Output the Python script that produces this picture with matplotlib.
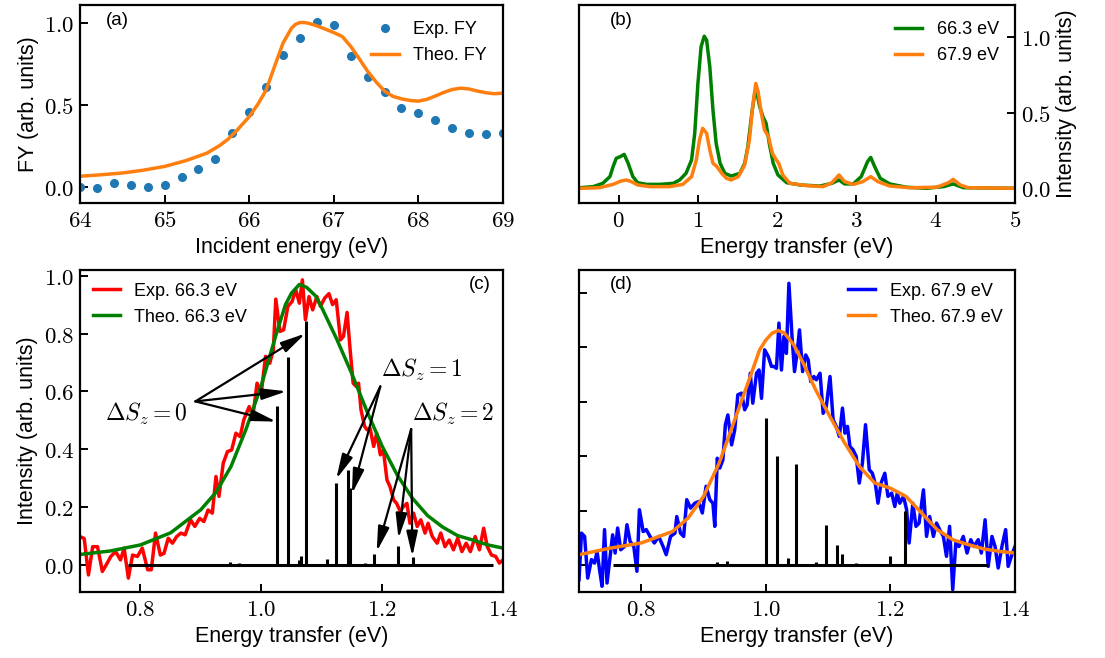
import matplotlib
matplotlib.use('Agg')
import matplotlib.pyplot as plt
from matplotlib.ticker import FuncFormatter, MultipleLocator

plt.rcParams['font.family'] = 'Liberation Sans'
plt.rcParams['mathtext.fontset'] = 'cm'

# ---- (a) fluorescence yield ----
fy_exp_x = [64.0, 64.2, 64.4, 64.6, 64.8, 65.0, 65.2, 65.4, 65.6, 65.8, 66.0, 66.2, 66.4,
            66.6, 66.8, 67.0, 67.2, 67.4, 67.6, 67.8, 68.0, 68.2, 68.4, 68.6, 68.8, 69.0]
fy_exp_y = [-0.004, -0.006, 0.02, 0.01, 0.0, 0.012, 0.06, 0.105, 0.166, 0.325, 0.457, 0.608, 0.80,
            0.903, 1.002, 0.986, 0.798, 0.67, 0.578, 0.479, 0.446, 0.406, 0.36, 0.327, 0.323, 0.329]
fy_th_x = [64.0, 64.25, 64.5, 64.75, 65.0, 65.25, 65.5, 65.65, 65.75, 65.85, 66.0, 66.1, 66.2,
           66.3, 66.4, 66.5, 66.55, 66.6, 66.65, 66.7, 66.8, 66.9, 67.0, 67.1, 67.2, 67.3,
           67.4, 67.5, 67.6, 67.7, 67.8, 67.9, 68.0, 68.1, 68.2, 68.3, 68.4, 68.5, 68.6,
           68.7, 68.8, 68.9, 69.0]
fy_th_y = [0.063, 0.072, 0.083, 0.1, 0.123, 0.158, 0.204, 0.25, 0.289, 0.34, 0.426, 0.5, 0.588,
           0.733, 0.875, 0.966, 0.99, 1.0, 1.0, 0.996, 0.98, 0.96, 0.939, 0.915, 0.855, 0.78,
           0.703, 0.638, 0.582, 0.55, 0.535, 0.525, 0.521, 0.532, 0.552, 0.574, 0.592, 0.60, 0.595,
           0.582, 0.572, 0.566, 0.57]

# ---- (b) theoretical RIXS spectra ----
b_g_x = [-0.49, -0.32, -0.2, -0.11, -0.07, -0.03, 0.02, 0.07, 0.12, 0.18, 0.24, 0.35, 0.52, 0.69,
         0.77, 0.85, 0.92, 0.96, 1.0, 1.04, 1.08, 1.11, 1.15, 1.19, 1.23, 1.28, 1.34, 1.42, 1.53,
         1.59, 1.63, 1.68, 1.72, 1.75, 1.78, 1.82, 1.86, 1.9, 1.95, 2.01, 2.12, 2.29, 2.54, 2.69,
         2.78, 2.85, 2.96, 3.06, 3.14, 3.18, 3.23, 3.3, 3.42, 3.63, 3.88, 4.1, 4.22, 4.35, 5.0]
b_g_y = [0.004, 0.011, 0.033, 0.077, 0.143, 0.198, 0.209, 0.224, 0.165, 0.077, 0.037, 0.026, 0.026,
         0.033, 0.055, 0.099, 0.187, 0.363, 0.692, 0.934, 1.004, 0.978, 0.802, 0.516, 0.297,
         0.165, 0.099, 0.081, 0.099, 0.165, 0.275, 0.495, 0.637, 0.615, 0.538, 0.473, 0.429,
         0.297, 0.165, 0.088, 0.037, 0.022, 0.015, 0.033, 0.055, 0.029, 0.029, 0.077, 0.176,
         0.204, 0.143, 0.066, 0.029, 0.007, 0.0, 0.011, 0.029, 0.004, 0.0]
b_o_x = [-0.49, -0.24, -0.07, 0.03, 0.1, 0.16, 0.24, 0.39, 0.64, 0.81, 0.92, 0.98, 1.02, 1.06,
         1.11, 1.15, 1.19, 1.24, 1.3, 1.36, 1.42, 1.51, 1.59, 1.65, 1.69, 1.73, 1.76, 1.8, 1.84,
         1.89, 1.94, 1.99, 2.02, 2.07, 2.16, 2.37, 2.58, 2.69, 2.78, 2.85, 2.96, 3.08, 3.18, 3.27,
         3.42, 3.67, 4.01, 4.16, 4.22, 4.31, 4.41, 5.0]
b_o_y = [0.0, 0.004, 0.026, 0.048, 0.055, 0.044, 0.022, 0.011, 0.011, 0.026, 0.077, 0.187, 0.319,
         0.396, 0.363, 0.253, 0.165, 0.143, 0.099, 0.066, 0.055, 0.077, 0.154, 0.319, 0.538,
         0.692, 0.637, 0.495, 0.385, 0.341, 0.231, 0.187, 0.165, 0.088, 0.033, 0.018, 0.011,
         0.037, 0.088, 0.044, 0.026, 0.044, 0.077, 0.044, 0.015, 0.004, 0.007, 0.037, 0.059,
         0.022, 0.004, 0.0]

# ---- (c) 66.3 eV ----
c_exp_x = [0.700, 0.707, 0.714, 0.721, 0.729, 0.737, 0.745, 0.751, 0.759, 0.767, 0.773, 0.780,
           0.787, 0.795, 0.803, 0.812, 0.818, 0.825, 0.833, 0.839, 0.846, 0.853, 0.860, 0.867,
           0.874, 0.883, 0.890, 0.898, 0.905, 0.912, 0.919, 0.925, 0.930, 0.937, 0.944, 0.951,
           0.958, 0.965, 0.971, 0.980, 0.986, 0.993, 1.000, 1.007, 1.014, 1.020, 1.024, 1.031,
           1.037, 1.044, 1.051, 1.057, 1.063, 1.068, 1.073, 1.079, 1.085, 1.092, 1.098, 1.105,
           1.112, 1.118, 1.124, 1.131, 1.136, 1.142, 1.147, 1.152, 1.157, 1.161, 1.165, 1.171,
           1.175, 1.180, 1.186, 1.191, 1.197, 1.202, 1.208, 1.213, 1.219, 1.224, 1.230, 1.235,
           1.241, 1.246, 1.252, 1.258, 1.264, 1.271, 1.276, 1.283, 1.291, 1.297, 1.304, 1.311,
           1.318, 1.325, 1.332, 1.339, 1.346, 1.354, 1.361, 1.368, 1.374, 1.381, 1.388, 1.394, 1.400]
c_exp_y = [0.097, 0.09, -0.036, 0.062, 0.062, -0.024, 0.005, 0.028, 0.045, 0.016, 0.057, -0.047,
           0.033, 0.028, 0.057, -0.018, -0.018, 0.109, 0.033, 0.039, 0.091, 0.074, 0.097, 0.109,
           0.103, 0.155, 0.132, 0.16, 0.149, 0.189, 0.178, 0.305, 0.236, 0.351, 0.391, 0.397,
           0.455, 0.443, 0.501, 0.547, 0.513, 0.628, 0.594, 0.721, 0.697, 0.744, 0.919, 0.807,
           0.813, 0.894, 0.911, 0.952, 0.905, 0.986, 0.848, 0.928, 0.882, 0.928, 0.894, 0.923,
           0.938, 0.9, 0.917, 0.778, 0.79, 0.873, 0.744, 0.628, 0.617, 0.628, 0.536, 0.478,
           0.467, 0.472, 0.409, 0.455, 0.38, 0.397, 0.293, 0.27, 0.224, 0.212, 0.184, 0.2,
           0.212, 0.143, 0.178, 0.132, 0.155, 0.109, 0.143, 0.097, 0.074, 0.109, 0.062, 0.085,
           0.051, 0.091, 0.045, 0.074, 0.045, 0.097, 0.051, 0.126, 0.062, 0.033, 0.028, 0.005, 0.016]
c_th_x = [0.70, 0.75, 0.80, 0.85, 0.90, 0.925, 0.95, 0.975, 1.0, 1.025, 1.04, 1.05, 1.063, 1.075,
          1.09, 1.1, 1.125, 1.15, 1.175, 1.2, 1.225, 1.25, 1.275, 1.3, 1.325, 1.35, 1.375, 1.4]
c_th_y = [0.035, 0.047, 0.068, 0.11, 0.19, 0.25, 0.34, 0.47, 0.62, 0.80, 0.90, 0.94, 0.97, 0.96,
          0.93, 0.89, 0.78, 0.66, 0.53, 0.41, 0.31, 0.23, 0.17, 0.13, 0.10, 0.085, 0.068, 0.057]
c_stick_x = [0.949, 0.963, 0.993, 1.026, 1.044, 1.062, 1.065, 1.074, 1.09, 1.108, 1.124, 1.143,
             1.147, 1.171, 1.187, 1.226, 1.251]
c_stick_y = [0.01, 0.005, 0.003, 0.55, 0.718, 0.015, 0.03, 0.842, 0.003, 0.02, 0.282, 0.326,
             0.264, 0.005, 0.035, 0.065, 0.025]
c_stick_range = [0.78, 1.384]

# ---- (d) 67.9 eV ----
d_exp_x = [0.700, 0.704, 0.709, 0.714, 0.720, 0.725, 0.729, 0.733, 0.737, 0.741, 0.745, 0.750,
           0.754, 0.758, 0.762, 0.767, 0.773, 0.777, 0.782, 0.788, 0.793, 0.797, 0.803, 0.808,
           0.814, 0.821, 0.828, 0.835, 0.840, 0.847, 0.854, 0.857, 0.863, 0.868, 0.873, 0.879,
           0.886, 0.892, 0.898, 0.904, 0.910, 0.915, 0.918, 0.922, 0.926, 0.931, 0.935, 0.939,
           0.945, 0.950, 0.955, 0.961, 0.966, 0.970, 0.975, 0.979, 0.985, 0.989, 0.993, 0.998,
           1.004, 1.009, 1.013, 1.017, 1.021, 1.025, 1.029, 1.033, 1.037, 1.042, 1.046, 1.050,
           1.054, 1.059, 1.064, 1.068, 1.072, 1.077, 1.081, 1.087, 1.092, 1.097, 1.103, 1.108,
           1.113, 1.118, 1.123, 1.127, 1.131, 1.135, 1.140, 1.145, 1.150, 1.155, 1.160, 1.166,
           1.171, 1.176, 1.180, 1.185, 1.191, 1.196, 1.202, 1.207, 1.211, 1.215, 1.221, 1.226,
           1.230, 1.236, 1.241, 1.246, 1.253, 1.258, 1.263, 1.269, 1.274, 1.279, 1.285, 1.290,
           1.295, 1.300, 1.305, 1.310, 1.317, 1.323, 1.329, 1.334, 1.341, 1.346, 1.352, 1.357,
           1.363, 1.368, 1.373, 1.379, 1.385, 1.389, 1.395, 1.400]
d_exp_y = [-0.054, 0.117, 0.105, -0.048, 0.02, 0.007, 0.05, -0.017, -0.078, 0.13, -0.066, 0.032,
           0.111, 0.044, 0.136, 0.056, 0.068, 0.148, 0.087, 0.068, -0.023, 0.203, 0.123, 0.13,
           0.105, 0.081, 0.105, 0.068, 0.038, 0.105, 0.117, 0.178, 0.117, 0.105, 0.24, 0.209,
           0.227, 0.233, 0.191, 0.289, 0.24, 0.227, 0.142, 0.392, 0.356, 0.386, 0.515, 0.551,
           0.441, 0.496, 0.625, 0.631, 0.57, 0.588, 0.704, 0.594, 0.704, 0.716, 0.612, 0.79,
           0.765, 0.729, 0.729, 0.722, 0.888, 0.716, 0.839, 0.777, 1.034, 0.839, 0.71, 0.777,
           0.863, 0.71, 0.771, 0.753, 0.674, 0.692, 0.68, 0.704, 0.557, 0.582, 0.692, 0.533,
           0.509, 0.472, 0.576, 0.484, 0.509, 0.435, 0.423, 0.399, 0.301, 0.374, 0.515, 0.35,
           0.337, 0.295, 0.227, 0.301, 0.337, 0.252, 0.264, 0.215, 0.264, 0.227, 0.252, 0.203,
           0.081, 0.227, 0.142, 0.154, 0.276, 0.105, 0.178, 0.105, 0.154, 0.13, 0.105, 0.032,
           0.142, -0.09, 0.081, 0.068, 0.105, 0.044, 0.093, 0.068, 0.093, 0.044, 0.166, -0.005,
           0.105, 0.068, -0.011, 0.068, 0.13, -0.005, 0.038, 0.068]
d_th_x = [0.70, 0.75, 0.80, 0.85, 0.875, 0.9, 0.925, 0.95, 0.975, 0.99, 1.0, 1.01, 1.02, 1.03,
          1.045, 1.06, 1.08, 1.1, 1.125, 1.15, 1.175, 1.2, 1.225, 1.25, 1.275, 1.3, 1.325, 1.35,
          1.375, 1.4]
d_th_y = [0.038, 0.062, 0.081, 0.123, 0.172, 0.252, 0.374, 0.533, 0.692, 0.79, 0.826, 0.851,
          0.861, 0.851, 0.808, 0.741, 0.643, 0.557, 0.454, 0.362, 0.301, 0.282, 0.252, 0.191,
          0.13, 0.093, 0.075, 0.059, 0.05, 0.044]
d_stick_x = [0.921, 0.938, 0.968, 1.000, 1.018, 1.036, 1.048, 1.080, 1.097, 1.115, 1.122, 1.144,
             1.159, 1.199, 1.223]
d_stick_y = [0.011, 0.013, 0.003, 0.539, 0.401, 0.026, 0.372, 0.01, 0.148, 0.075, 0.042, 0.007,
             0.005, 0.034, 0.2]
d_stick_range = [0.754, 1.357]

# arrow annotations in (c): (tail, head)
arrows_s0 = [((0.891, 0.565), (1.025, 0.495)), ((0.891, 0.565), (1.042, 0.60)),
             ((0.891, 0.565), (1.073, 0.80))]
arrows_s1 = [((1.197, 0.617), (1.124, 0.296)), ((1.197, 0.617), (1.150, 0.245))]
arrows_s2 = [((1.248, 0.469), (1.191, 0.045)), ((1.248, 0.469), (1.227, 0.09)),
             ((1.248, 0.469), (1.250, 0.028))]

W, H = 1105, 658
fig = plt.figure(figsize=(W / 100, H / 100), dpi=100)
ax_a = fig.add_axes([80 / W, 1 - 203 / H, 423 / W, 198 / H])
ax_b = fig.add_axes([579 / W, 1 - 203 / H, 436 / W, 198 / H])
ax_c = fig.add_axes([80 / W, 1 - 592 / H, 423 / W, 322 / H])
ax_d = fig.add_axes([579 / W, 1 - 592 / H, 436 / W, 322 / H])

lab_fs = 15.5
tick_fs = 16.5
leg_fs = 13
lw = 2.5


def mathfmt(dec):
    return FuncFormatter(lambda v, p: '$%.*f$' % (dec, v))


for ax in (ax_a, ax_b, ax_c, ax_d):
    for s in ax.spines.values():
        s.set_linewidth(1.6)
    ax.tick_params(direction='in', length=5.5, width=1.4, labelsize=tick_fs, pad=4)

# (a)
ax_a.plot(fy_exp_x, fy_exp_y, 'o', color='#1f77b4', ms=5.5, label='Exp. FY')
ax_a.plot(fy_th_x, fy_th_y, '-', color='#ff7f0e', lw=lw, label='Theo. FY')
ax_a.set_xlim(64, 69)
ax_a.set_ylim(-0.1, 1.107)
ax_a.xaxis.set_major_locator(MultipleLocator(1))
ax_a.yaxis.set_major_locator(MultipleLocator(0.5))
ax_a.xaxis.set_major_formatter(mathfmt(0))
ax_a.yaxis.set_major_formatter(mathfmt(1))
ax_a.set_xlabel('Incident energy (eV)', fontsize=lab_fs)
ax_a.set_ylabel('FY (arb. units)', fontsize=lab_fs)
ax_a.legend(loc='upper right', frameon=False, fontsize=leg_fs, handlelength=1.5)
ax_a.text(0.06, 0.92, '(a)', transform=ax_a.transAxes, fontsize=13.5, va='center')

# (b)
ax_b.plot(b_g_x, b_g_y, '-', color='green', lw=lw, label='66.3 eV')
ax_b.plot(b_o_x, b_o_y, '-', color='#ff7f0e', lw=lw, label='67.9 eV')
ax_b.set_xlim(-0.5, 5)
ax_b.set_ylim(-0.097, 1.21)
ax_b.xaxis.set_major_locator(MultipleLocator(1))
ax_b.yaxis.set_major_locator(MultipleLocator(0.5))
ax_b.xaxis.set_major_formatter(mathfmt(0))
ax_b.yaxis.set_major_formatter(mathfmt(1))
ax_b.yaxis.tick_right()
ax_b.yaxis.set_label_position('right')
ax_b.set_xlabel('Energy transfer (eV)', fontsize=lab_fs)
ax_b.set_ylabel('Intensity (arb. units)', fontsize=lab_fs)
ax_b.legend(loc='upper right', frameon=False, fontsize=leg_fs, handlelength=1.5)
ax_b.text(0.07, 0.92, '(b)', transform=ax_b.transAxes, fontsize=13.5, va='center')

# (c)
ax_c.plot(c_exp_x, c_exp_y, '-', color='red', lw=lw, label='Exp. 66.3 eV')
ax_c.plot(c_th_x, c_th_y, '-', color='green', lw=lw, label='Theo. 66.3 eV')
ax_c.hlines(0, c_stick_range[0], c_stick_range[1], color='k', lw=2.2)
ax_c.vlines(c_stick_x, 0, c_stick_y, color='k', lw=2.2)
ax_c.set_xlim(0.7, 1.4)
ax_c.set_ylim(-0.095, 1.02)
ax_c.xaxis.set_major_locator(MultipleLocator(0.2))
ax_c.yaxis.set_major_locator(MultipleLocator(0.2))
ax_c.xaxis.set_major_formatter(mathfmt(1))
ax_c.yaxis.set_major_formatter(mathfmt(1))
ax_c.set_xlabel('Energy transfer (eV)', fontsize=lab_fs)
ax_c.set_ylabel('Intensity (arb. units)', fontsize=lab_fs)
ax_c.legend(loc='upper left', frameon=False, fontsize=leg_fs, handlelength=1.5,
            borderaxespad=0.3)
ax_c.text(0.92, 0.955, '(c)', transform=ax_c.transAxes, fontsize=13.5, va='center')

aprops = dict(arrowstyle='-|>,head_length=0.75,head_width=0.17', color='k', lw=1.6,
              shrinkA=0, shrinkB=0, mutation_scale=20)
for group in (arrows_s0, arrows_s1, arrows_s2):
    for tail, head in group:
        ax_c.annotate('', xy=head, xytext=tail, arrowprops=aprops)
ax_c.text(0.879, 0.52, r'$\Delta S_z = 0$', fontsize=17, ha='right', va='center')
ax_c.text(1.198, 0.675, r'$\Delta S_z = 1$', fontsize=17, ha='left', va='center')
ax_c.text(1.250, 0.52, r'$\Delta S_z = 2$', fontsize=17, ha='left', va='center')

# (d)
ax_d.plot(d_exp_x, d_exp_y, '-', color='blue', lw=lw, label='Exp. 67.9 eV')
ax_d.plot(d_th_x, d_th_y, '-', color='#ff7f0e', lw=lw, label='Theo. 67.9 eV')
ax_d.hlines(0, d_stick_range[0], d_stick_range[1], color='k', lw=2.2)
ax_d.vlines(d_stick_x, 0, d_stick_y, color='k', lw=2.2)
ax_d.set_xlim(0.7, 1.4)
ax_d.set_ylim(-0.099, 1.083)
ax_d.xaxis.set_major_locator(MultipleLocator(0.2))
ax_d.yaxis.set_major_locator(MultipleLocator(0.2))
ax_d.xaxis.set_major_formatter(mathfmt(1))
ax_d.yaxis.set_major_formatter(FuncFormatter(lambda v, p: ''))
ax_d.set_xlabel('Energy transfer (eV)', fontsize=lab_fs)
ax_d.legend(loc='upper right', frameon=False, fontsize=leg_fs, handlelength=1.5,
            borderaxespad=0.3)
ax_d.text(0.07, 0.955, '(d)', transform=ax_d.transAxes, fontsize=13.5, va='center')

fig.savefig('out.png', dpi=100)
